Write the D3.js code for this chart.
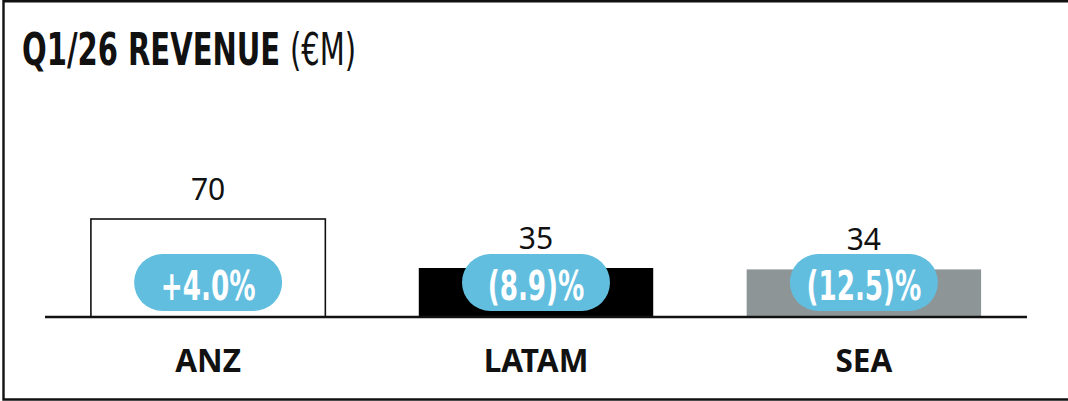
<!DOCTYPE html>
<html>
<head>
<meta charset="utf-8">
<script src="https://cdn.jsdelivr.net/npm/d3@7"></script>
<style>
body{margin:0;background:#fff}
svg{display:block}
</style>
</head>
<body>
<svg id="revGraph"></svg>
<script>
var regions = ["ANZ","LATAM","SEA"]
var revenue = [70,35,34]
var growthLabels = ["+4.0%","(8.9)%","(12.5)%"]
var barFills = ["#ffffff","#000000","#8e9597"]
var titleMain = "Q1/26 REVENUE"
var titleUnit = "(€M)"

var screen = {width:1068,height:401}
var plot = {left:45,right:1027,base:317}

// squeeze a text horizontally so a wide font looks condensed
var squeeze = function(sel,factor)
{
    sel.each(function(){
        var t = d3.select(this)
        var x = +t.attr("x"), y = +t.attr("y")
        t.attr("x",0).attr("y",0)
            .attr("transform","translate("+x+","+y+") scale("+factor+",1)")
    })
}

var initGraph = function()
{
    var svg = d3.select("#revGraph")
        .attr("width",screen.width)
        .attr("height",screen.height)

    var rows = regions.map(function(r,i){
        return {region:r,value:revenue[i],growth:growthLabels[i],fill:barFills[i]}
    })

    var xScale = d3.scaleBand()
        .domain(regions)
        .range([plot.left,plot.right])
        .paddingInner(0.285)
        .paddingOuter(0.14)

    var yScale = d3.scaleLinear()
        .domain([0,100])
        .range([plot.base,plot.base-140])

    // frame
    svg.append("path")
        .attr("d","M"+screen.width+",1.2H3.5V399.5H"+screen.width)
        .attr("fill","none")
        .attr("stroke","#111")
        .attr("stroke-width",2.4)

    drawTitle(svg)
    drawBars(svg,rows,xScale,yScale)
    drawAxis(svg,xScale)
}

var drawTitle = function(svg)
{
    var t1 = svg.append("text")
        .text(titleMain)
        .attr("x",22)
        .attr("y",65)
        .attr("font-family","DejaVu Sans")
        .attr("font-weight","bold")
        .attr("font-size",44)
        .attr("fill","#111")
    squeeze(t1,0.66)

    var t2 = svg.append("text")
        .text(titleUnit)
        .attr("x",290)
        .attr("y",65)
        .attr("font-family","DejaVu Sans")
        .attr("font-size",44)
        .attr("fill","#111")
    squeeze(t2,0.66)
}

var drawBars = function(svg,rows,xScale,yScale)
{
    var g = svg.append("g")

    g.selectAll("rect.bar")
        .data(rows)
        .enter()
        .append("rect")
        .attr("class","bar")
        .attr("x",function(d){ return xScale(d.region) })
        .attr("y",function(d){ return yScale(d.value) })
        .attr("width",xScale.bandwidth())
        .attr("height",function(d){ return yScale(0)-yScale(d.value) })
        .attr("fill",function(d){ return d.fill })
        .attr("stroke",function(d){ return d.fill=="#ffffff" ? "#111" : "none" })
        .attr("stroke-width",1.6)

    g.selectAll("text.val")
        .data(rows)
        .enter()
        .append("text")
        .attr("class","val")
        .text(function(d){ return d.value })
        .attr("x",function(d){ return xScale(d.region)+xScale.bandwidth()/2 })
        .attr("y",function(d){ return yScale(d.value)-19 })
        .attr("text-anchor","middle")
        .attr("font-family","Noto Sans")
        .attr("font-size",30)
        .attr("fill","#111")

    var pw = 148, ph = 57
    g.selectAll("rect.pill")
        .data(rows)
        .enter()
        .append("rect")
        .attr("class","pill")
        .attr("x",function(d){ return xScale(d.region)+xScale.bandwidth()/2-pw/2 })
        .attr("y",254)
        .attr("width",pw)
        .attr("height",ph)
        .attr("rx",ph/2)
        .attr("fill","#62bedf")

    var pt = g.selectAll("text.pct")
        .data(rows)
        .enter()
        .append("text")
        .attr("class","pct")
        .text(function(d){ return d.growth })
        .attr("x",function(d){ return xScale(d.region)+xScale.bandwidth()/2 })
        .attr("y",300)
        .attr("text-anchor","middle")
        .attr("font-family","DejaVu Sans")
        .attr("font-weight","bold")
        .attr("font-size",41)
        .attr("fill","#ffffff")
    squeeze(pt,0.64)
}

var drawAxis = function(svg,xScale)
{
    var xAxis = d3.axisBottom(xScale)
        .tickSize(0)
        .tickPadding(33)

    var axis = svg.append("g")
        .attr("transform","translate(0,"+plot.base+")")
        .call(xAxis)

    axis.select(".domain")
        .attr("d","M"+plot.left+",0H"+plot.right)
        .attr("stroke","#111")
        .attr("stroke-width",2.6)

    axis.selectAll(".tick text")
        .attr("font-family","Noto Sans")
        .attr("font-weight","bold")
        .attr("font-size",31.5)
        .attr("fill","#111")
}

initGraph()
</script>
</body>
</html>
